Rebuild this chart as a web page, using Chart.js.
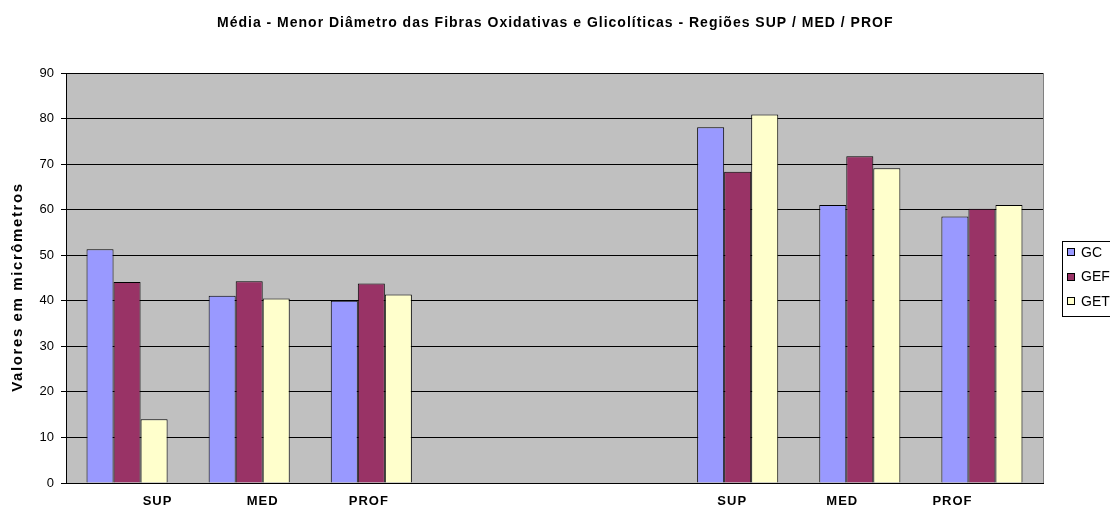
<!DOCTYPE html>
<html>
<head>
<meta charset="utf-8">
<script src="https://cdn.jsdelivr.net/npm/chart.js@4.4.0/dist/chart.umd.min.js"></script>
<style>
  html, body { margin: 0; padding: 0; background: #ffffff; overflow: hidden; }
  #wrap { width: 1110px; height: 509px; position: relative; }
</style>
</head>
<body>
<div id="wrap"><canvas id="chart"></canvas></div>
<script>
// Chart data
const categories = ['SUP', 'MED', 'PROF', '', '', 'SUP', 'MED', 'PROF'];
const gcValues = [51.3, 41.1, 40.0, null, null, 78.1, 61.0, 58.5];
const gefValues = [44.1, 44.3, 43.8, null, null, 68.3, 71.7, 60.2];
const getValues = [14.0, 40.5, 41.4, null, null, 80.9, 69.1, 61.0];
const seriesNames = ['GC', 'GEF', 'GET'];
const yTicks = [0, 10, 20, 30, 40, 50, 60, 70, 80, 90];
const chartTitle = 'Média - Menor Diâmetro das Fibras Oxidativas e Glicolíticas - Regiões SUP / MED / PROF';
const yTitle = 'Valores em micrômetros';

const FONT = '"Liberation Sans", Arial, sans-serif';
const colors = ['#9999FF', '#993366', '#FFFFCC'];

// x labels in the original sit a bit off the group centres
const labelShift = [30, 13, -3, 0, 0, -6, -18, -30];

// grey plot area + border
const plotBackground = {
    id: 'plotBackground',
    beforeDraw(chart) {
        const { ctx, chartArea: a } = chart;
        ctx.save();
        ctx.fillStyle = '#C0C0C0';
        ctx.fillRect(a.left, a.top, a.right - a.left, a.bottom - a.top);
        ctx.strokeStyle = '#808080';
        ctx.lineWidth = 1;
        ctx.strokeRect(Math.round(a.left) + 0.5, Math.round(a.top) + 0.5,
            Math.round(a.right - a.left), Math.round(a.bottom - a.top));
        ctx.restore();
    }
};

// texts drawn with the wide letter spacing of the original
const texts = {
    id: 'texts',
    afterDraw(chart) {
        const { ctx } = chart;
        const xs = chart.scales.x;
        ctx.save();
        ctx.fillStyle = '#000';
        ctx.textBaseline = 'middle';

        // title
        ctx.font = 'bold 14px ' + FONT;
        ctx.letterSpacing = '1px';
        ctx.textAlign = 'left';
        ctx.fillText(chartTitle, 217, 23);

        // category labels
        ctx.font = 'bold 13px ' + FONT;
        ctx.letterSpacing = '1px';
        ctx.textAlign = 'center';
        categories.forEach((c, i) => {
            if (!c) return;
            ctx.fillText(c, xs.getPixelForValue(i) + labelShift[i] + 0.5, 501);
        });

        // y axis title
        ctx.font = 'bold 15px ' + FONT;
        ctx.letterSpacing = '1.6px';
        ctx.translate(18, 287);
        ctx.rotate(-Math.PI / 2);
        ctx.fillText(yTitle, 0, 0);
        ctx.restore();
    }
};

// boxed legend at the right edge (cut by the window like the original)
const boxLegend = {
    id: 'boxLegend',
    afterDraw(chart) {
        const { ctx } = chart;
        const left = 1062, top = 241;
        ctx.save();
        ctx.fillStyle = '#fff';
        ctx.fillRect(left, top, 70, 75);
        ctx.strokeStyle = '#000';
        ctx.lineWidth = 1;
        ctx.strokeRect(left + 0.5, top + 0.5, 70, 75);
        ctx.font = '14px ' + FONT;
        ctx.textBaseline = 'middle';
        chart.data.datasets.forEach((ds, i) => {
            const y = 252 + i * 24.5;
            ctx.fillStyle = ds.backgroundColor;
            ctx.fillRect(1067, Math.round(y - 4), 7, 7);
            ctx.strokeRect(1067.5, Math.round(y - 4) + 0.5, 7, 7);
            ctx.fillStyle = '#000';
            ctx.fillText(ds.label, 1081, y + 1);
        });
        ctx.restore();
    }
};

const ctx = document.getElementById('chart').getContext('2d');
const chart = new Chart(ctx, {
    type: 'bar',
    data: {
        labels: categories,
        datasets: [gcValues, gefValues, getValues].map((vals, i) => ({
            label: seriesNames[i],
            data: vals,
            backgroundColor: colors[i],
            borderColor: '#000000',
            borderWidth: 1,
            categoryPercentage: 0.664,
            barPercentage: 1.0
        }))
    },
    options: {
        responsive: true,
        maintainAspectRatio: false,
        animation: false,
        devicePixelRatio: 1,
        layout: { padding: { left: 0, right: 67, top: 73, bottom: 0 } },
        plugins: {
            legend: { display: false },
            tooltip: { enabled: false },
            title: { display: false }
        },
        scales: {
            x: {
                grid: { display: false },
                border: { color: '#000', width: 1 },
                ticks: { display: false },
                afterFit(scale) { scale.height = 26; }
            },
            y: {
                min: 0,
                max: 90,
                afterBuildTicks(scale) { scale.ticks = yTicks.map(v => ({ value: v })); },
                grid: { color: '#000', lineWidth: 1, tickLength: 5 },
                border: { color: '#000', width: 1 },
                ticks: {
                    color: '#000',
                    padding: 7,
                    font: { family: FONT, size: 13 }
                },
                afterFit(scale) { scale.width = 66; }
            }
        }
    },
    plugins: [plotBackground, texts, boxLegend]
});
</script>
</body>
</html>
